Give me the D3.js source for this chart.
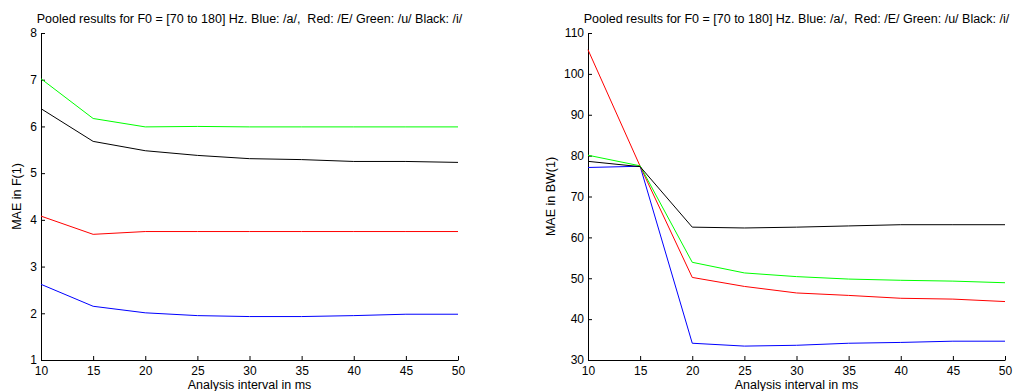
<!DOCTYPE html>
<html><head><meta charset="utf-8">
<script src="https://cdn.jsdelivr.net/npm/d3@7"></script>
<style>
body{margin:0;background:#fff;}
svg{display:block;font-family:"Liberation Sans",Arial,sans-serif;}
text{white-space:pre;}
</style></head>
<body><svg id="c" width="1013" height="391"></svg>
<script>
const intervals = [10,15,20,25,30,35,40,45,50];
const titleText = "Pooled results for F0 = [70 to 180] Hz. Blue: /a/,  Red: /E/ Green: /u/ Black: /i/";
const xLabel = "Analysis interval in ms";

// Left panel: MAE in F(1)
const f1Blue  = [2.62,2.15,2.01,1.95,1.93,1.93,1.95,1.98,1.98];
const f1Red   = [4.08,3.69,3.75,3.75,3.75,3.75,3.75,3.75,3.75];
const f1Green = [7.02,6.17,5.99,6.00,5.99,5.99,5.99,5.99,5.99];
const f1Black = [6.38,5.68,5.48,5.38,5.31,5.29,5.25,5.25,5.23];
const f1Ticks = [1,2,3,4,5,6,7,8];

// Right panel: MAE in BW(1)
const bwBlue  = [77.1,77.4,34.1,33.4,33.6,34.1,34.3,34.6,34.6];
const bwRed   = [105.9,77.4,50.2,48.0,46.4,45.8,45.1,44.9,44.3];
const bwGreen = [80.1,77.5,53.9,51.3,50.4,49.8,49.5,49.3,48.9];
const bwBlack = [78.6,77.3,62.5,62.3,62.5,62.8,63.1,63.1,63.1];
const bwTicks = [30,40,50,60,70,80,90,100,110];

const colors = {blue:"#0000ff", red:"#ff0000", green:"#00ff00", black:"#000000"};

const svg = d3.select("#c");

function panel(opt){
  const g = svg.append("g");
  const x = d3.scaleLinear().domain([10,50]).range([opt.x0,opt.x1]);
  const y = d3.scaleLinear().domain(opt.domain).range([opt.yb,opt.yt]);
  const xa = d3.axisBottom(x).tickValues(intervals).tickSizeInner(-4).tickSizeOuter(0).tickPadding(6).tickFormat(d3.format("d"));
  const ya = d3.axisLeft(y).tickValues(opt.ticks).tickSizeInner(-4).tickSizeOuter(0).tickPadding(4).tickFormat(d3.format("d"));
  const gx = g.append("g").attr("transform",`translate(0,${opt.yb})`).call(xa);
  const gy = g.append("g").attr("transform",`translate(${opt.x0},0)`).call(ya);
  [gx,gy].forEach(a=>{
    a.selectAll("path").attr("stroke","#000").attr("stroke-width",1);
    a.selectAll("line").attr("stroke","#000").attr("stroke-width",1);
    a.selectAll("text").attr("fill","#000").style("font-size","12px").style("font-family","Liberation Sans, Arial, sans-serif");
  });
  const line = d3.line().x((d,i)=>x(intervals[i])).y(d=>y(d));
  opt.series.forEach(s=>{
    g.append("path").datum(s.v).attr("d",line).attr("fill","none").attr("stroke",s.c).attr("stroke-width",1);
  });
  g.append("text").attr("x",(opt.x0+opt.x1)/2).attr("y",23).attr("text-anchor","middle")
    .attr("xml:space","preserve").style("font-size","12.5px").text(titleText);
  g.append("text").attr("x",(opt.x0+opt.x1)/2).attr("y",opt.yb+29).attr("text-anchor","middle")
    .style("font-size","12.5px").text(xLabel);
  g.append("text").attr("transform",`translate(${opt.ylx},${(opt.yt+opt.yb)/2}) rotate(-90)`).attr("text-anchor","middle")
    .style("font-size","12.5px").text(opt.ylabel);
}

panel({x0:41,x1:458,yt:33,yb:360,domain:[1,8],ticks:f1Ticks,ylabel:"MAE in F(1)",ylx:21,
  series:[{v:f1Blue,c:colors.blue},{v:f1Red,c:colors.red},{v:f1Green,c:colors.green},{v:f1Black,c:colors.black}]});
panel({x0:588,x1:1005,yt:33,yb:360,domain:[30,110],ticks:bwTicks,ylabel:"MAE in BW(1)",ylx:555,
  series:[{v:bwBlue,c:colors.blue},{v:bwRed,c:colors.red},{v:bwGreen,c:colors.green},{v:bwBlack,c:colors.black}]});
</script></body></html>
